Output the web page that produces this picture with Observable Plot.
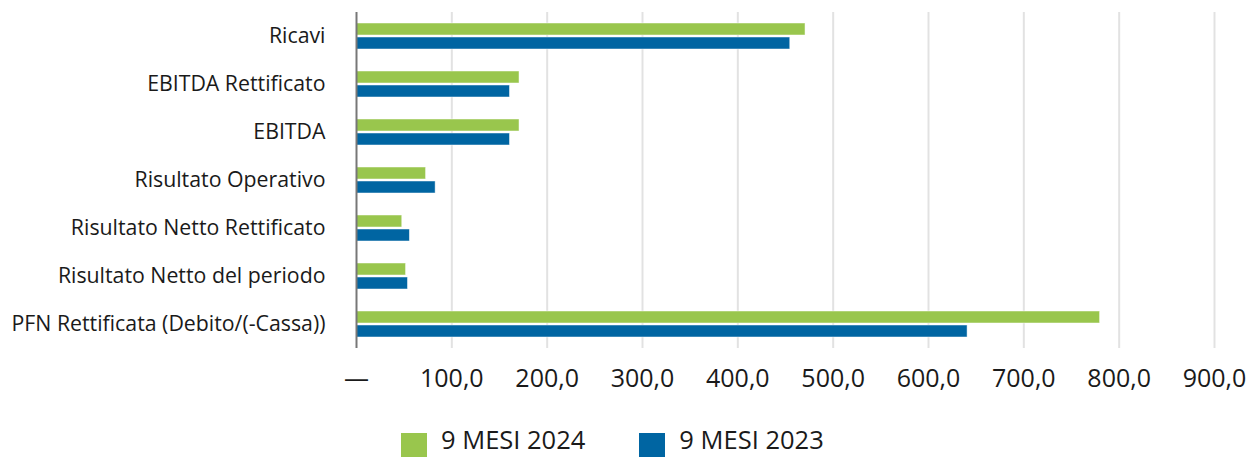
<!DOCTYPE html>
<html>
<head>
<meta charset="utf-8">
<script src="https://cdn.jsdelivr.net/npm/d3@7"></script>
<script src="https://cdn.jsdelivr.net/npm/@observablehq/plot@0.6"></script>
<style>
  html, body { margin: 0; padding: 0; background: #fff; overflow: hidden; }
  body { position: relative; width: 1247px; height: 457px; font-family: "Open Sans", "Noto Sans", sans-serif; }
  #chart svg { display: block; }
  .legend { position: absolute; left: 401px; top: 427px; display: flex; align-items: flex-start; font-size: 25.5px; line-height: 25px; color: #1a1a1a; }
  .legend .item { display: flex; align-items: flex-start; margin-right: 54px; }
  .legend .sw { width: 26px; height: 26px; margin-top: 6px; margin-right: 14px; }
</style>
</head>
<body>
<div id="chart"></div>
<div class="legend" id="legend"></div>
<script>
const categories = [
  "Ricavi",
  "EBITDA Rettificato",
  "EBITDA",
  "Risultato Operativo",
  "Risultato Netto Rettificato",
  "Risultato Netto del periodo",
  "PFN Rettificata (Debito/(-Cassa))"
];
const series = ["9 MESI 2024", "9 MESI 2023"];
const values2024 = [471, 171, 171, 73, 48, 52, 780];
const values2023 = [455, 161, 161, 83, 56, 54, 641];
const xTicks = [0, 100, 200, 300, 400, 500, 600, 700, 800, 900];
const colors = ["#99c64d", "#0065a2"];

const data = categories.flatMap((c, i) => [
  {cat: c, series: series[0], value: values2024[i]},
  {cat: c, series: series[1], value: values2023[i]}
]);

const fmt = d => d === 0 ? "—" : d.toFixed(1).replace(".", ",");

const chart = Plot.plot({
  width: 1247,
  height: 425,
  marginLeft: 356,
  marginRight: 33,
  marginTop: 12,
  marginBottom: 77,
  style: {fontFamily: "'Open Sans', 'Noto Sans', sans-serif", color: "#1a1a1a", background: "#fff"},
  x: {domain: [0, 900], ticks: xTicks, tickFormat: fmt, tickSize: 0, tickPadding: 21, label: null},
  y: {domain: series, axis: null, paddingInner: 0.17, paddingOuter: 0.74},
  fy: {domain: categories, padding: 0, label: null, tickSize: 0, tickPadding: 31, axis: "left"},
  color: {domain: series, range: colors},
  marks: [
    Plot.ruleX(xTicks.filter(d => d > 0), {stroke: "#e2e2e2", strokeWidth: 2}),
    Plot.barX(data, {x: "value", y: "series", fy: "cat", fill: "series", stroke: "#ffffff", strokeOpacity: 0.6, strokeWidth: 0.8}),
    Plot.ruleX([0], {stroke: "#777", strokeWidth: 2})
  ]
});

chart.querySelectorAll("g[aria-label='x-axis'], g[aria-label='x-axis tick label']").forEach(g => g.setAttribute("font-size", 25));
chart.querySelectorAll("g[aria-label='x-axis'] text, g[aria-label='x-axis tick label'] text").forEach(t => t.setAttribute("font-size", 25));
chart.querySelectorAll("g[aria-label='fy-axis'], g[aria-label='fy-axis tick label']").forEach(g => g.setAttribute("font-size", 21.3));
chart.querySelectorAll("g[aria-label='fy-axis'] text, g[aria-label='fy-axis tick label'] text").forEach(t => t.setAttribute("font-size", 21.3));

document.getElementById("chart").appendChild(chart);

const legend = document.getElementById("legend");
series.forEach((s, i) => {
  const item = document.createElement("div");
  item.className = "item";
  const sw = document.createElement("div");
  sw.className = "sw";
  sw.style.background = colors[i];
  const lab = document.createElement("span");
  lab.textContent = s;
  item.appendChild(sw);
  item.appendChild(lab);
  legend.appendChild(item);
});
</script>
</body>
</html>
